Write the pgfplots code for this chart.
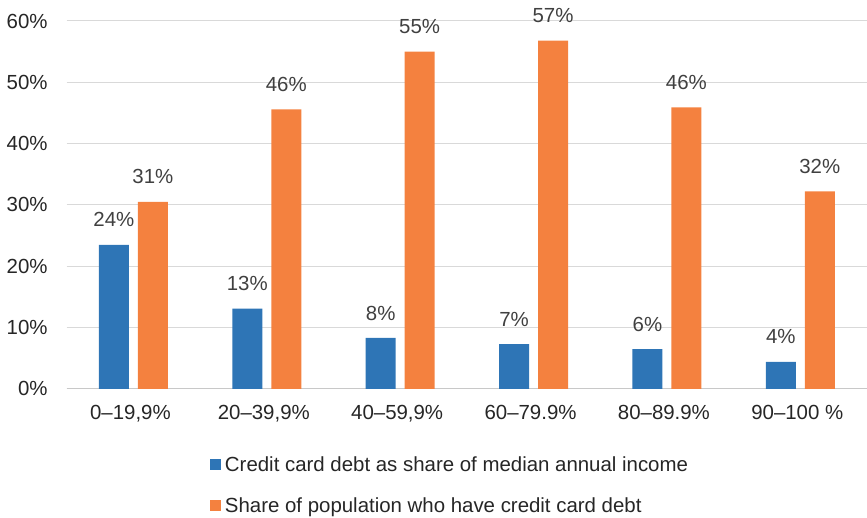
\documentclass[border=0pt]{standalone}
\usepackage{pgfplots}
\pgfplotsset{compat=1.18}
\usepackage{fontspec}
\setmainfont{Liberation Sans}
\definecolor{cblue}{HTML}{2E75B6}
\definecolor{corange}{HTML}{F4813F}
\definecolor{gridc}{HTML}{D9D9D9}
\definecolor{axc}{HTML}{C8C8C8}
\definecolor{lbl}{HTML}{404040}
\definecolor{tk}{HTML}{262626}
\begin{document}
\begin{tikzpicture}
\begin{axis}[
  name=ax,
  at={(0,0)}, anchor=south west,
  scale only axis, width=800.5bp, height=368bp,
  ybar=9bp, bar width=30bp,
  xmin=-0.5, xmax=5.5, ymin=0, ymax=60,
  xtick={0,1,2,3,4,5},
  xticklabels={{0–19,9\%},{20–39,9\%},{40–59,9\%},{60–79.9\%},{80–89.9\%},{90–100 \%}},
  ytick={0,10,20,30,40,50,60},
  yticklabels={0\%,10\%,20\%,30\%,40\%,50\%,60\%},
  ymajorgrids, grid style={gridc, line width=1bp},
  axis x line*=bottom, axis y line*=left,
  x axis line style={draw=axc, line width=1bp, -},
  y axis line style={draw=none},
  major tick length=0pt,
  tick label style={font=\fontsize{20.5}{24}\selectfont, text=tk},
  xticklabel style={anchor=north, inner sep=0pt, yshift=-16.5bp, xshift=-3bp},
  yticklabel style={anchor=east, inner sep=0pt, xshift=-19bp},
  point meta=explicit symbolic,
  nodes near coords={\pgfplotspointmeta\%},
  every node near coord/.append style={font=\fontsize{20.5}{24}\selectfont, text=lbl, anchor=base, inner sep=0pt, yshift=18bp},
  clip=false,
  legend cell align=left,
  legend image code/.code={\fill[#1] (0bp,1.8bp) rectangle (11bp,12.8bp);},
  legend style={draw=none, fill=none, at={(axis description cs:0.179,-0.184)}, anchor=north west,
    inner sep=0pt, outer sep=0pt, font=\fontsize{20.5}{24}\selectfont, text=tk,
    /tikz/row sep=25bp, /tikz/column sep=4bp, nodes={inner sep=0pt, anchor=base west}},
]
\addplot[fill=cblue, draw=none] table[x=x, y=y, meta=l, row sep=\\] {
x y l \\
0 23.5 24 \\
1 13.1 13 \\
2 8.3 8 \\
3 7.3 7 \\
4 6.5 6 \\
5 4.4 4 \\
};
\addlegendentry{Credit card debt as share of median annual income}
\addplot[fill=corange, draw=none] table[x=x, y=y, meta=l, row sep=\\] {
x y l \\
0 30.5 31 \\
1 45.6 46 \\
2 55.0 55 \\
3 56.8 57 \\
4 45.9 46 \\
5 32.2 32 \\
};
\addlegendentry{Share of population who have credit card debt}
\end{axis}
\pgfresetboundingbox
\path[use as bounding box] (-66.75bp,-129bp) rectangle (800.5bp,389bp);
\end{tikzpicture}
\end{document}
